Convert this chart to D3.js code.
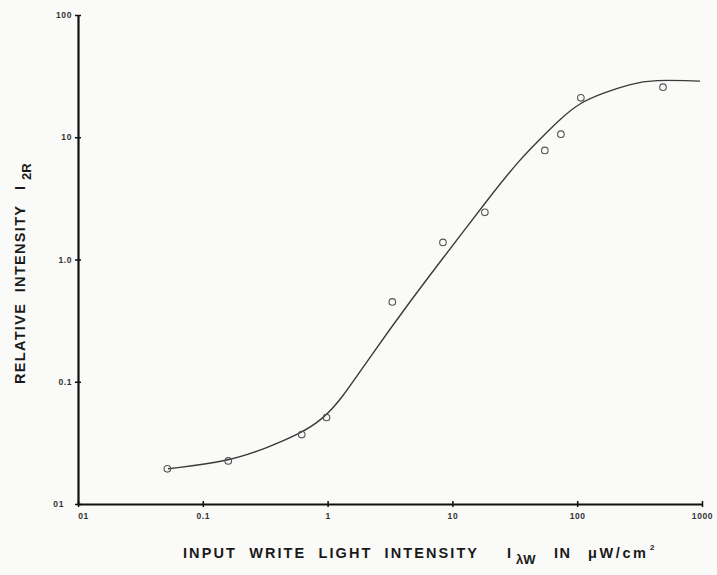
<!DOCTYPE html>
<html>
<head>
<meta charset="utf-8">
<script src="https://cdn.jsdelivr.net/npm/d3@7"></script>
<style>
  body { margin: 0; background: #fafaf8; }
  svg { display: block; }
  text { white-space: pre; }
  .tick text { font-family: "Liberation Sans", sans-serif; font-size: 8.5px; font-weight: bold; fill: #333; letter-spacing: 0.6px; }
  .axisLabel { font-family: "Liberation Sans", sans-serif; font-size: 14.5px; font-weight: bold; fill: #1a1a1a; }
</style>
</head>
<body>
<svg id="chart" width="717" height="575"></svg>
<script>
// measured points (input write light intensity, relative intensity)
var pointX = [0.052, 0.16, 0.62, 0.98, 3.3, 8.4, 18.2, 55, 74, 107, 487];
var pointY = [0.0194, 0.0225, 0.037, 0.051, 0.45, 1.38, 2.43, 7.8, 10.6, 21, 25.7];

// hand drawn fit curve
var curveX = [0.0526, 0.159, 0.327, 0.60, 0.918, 1.3, 2.19, 4.57, 7.9, 20.0, 34.8, 50.3, 72.8, 105, 161, 265, 405, 964];
var curveY = [0.0194, 0.0222, 0.0288, 0.0375, 0.0495, 0.073, 0.160, 0.453, 0.944, 3.28, 6.6, 9.63, 14.06, 19.2, 23.0, 27.2, 29.6, 28.8];

var xTicks = [0.01, 0.1, 1, 10, 100, 1000];
var xTickLabels = ["01", "0.1", "1", "10", "100", "1000"];
var yTicks = [0.01, 0.1, 1, 10, 100];
var yTickLabels = ["01", "0.1", "1.0", "10", "100"];

var svg = d3.select("#chart");

var x = d3.scaleLog().domain([0.01, 1000]).range([78, 702]);
var y = d3.scaleLog().domain([0.01, 100]).range([504, 15]);

// x axis
var xAxis = svg.append("g")
	.attr("transform", "translate(0," + y(0.01) + ")")
	.call(d3.axisBottom(x)
		.tickValues(xTicks)
		.tickSize(3)
		.tickSizeOuter(0)
		.tickFormat(function(d, i) { return xTickLabels[i]; }));
xAxis.select(".domain").attr("stroke", "#111").attr("stroke-width", 2.2);
xAxis.selectAll(".tick line").attr("y1", -3).attr("stroke", "#111").attr("stroke-width", 1.5);
xAxis.selectAll(".tick text").attr("dy", "0.9em").attr("y", 7);
xAxis.selectAll(".tick").filter(function(d) { return d === 0.01; }).select("text").attr("dx", 5);

// y axis
var yAxis = svg.append("g")
	.attr("transform", "translate(" + x(0.01) + ",0)")
	.call(d3.axisLeft(y)
		.tickValues(yTicks)
		.tickSize(3)
		.tickSizeOuter(0)
		.tickFormat(function(d, i) { return yTickLabels[i]; }));
yAxis.select(".domain").attr("stroke", "#111").attr("stroke-width", 2.2);
yAxis.selectAll(".tick line").attr("x1", 3).attr("stroke", "#111").attr("stroke-width", 1.5);
yAxis.selectAll(".tick text").attr("x", -6);
yAxis.selectAll(".tick").filter(function(d) { return d === 0.01; }).select("text").attr("x", -14);

// fit curve
var curveData = curveX.map(function(d, i) { return [d, curveY[i]]; });
var line = d3.line()
	.x(function(d) { return x(d[0]); })
	.y(function(d) { return y(d[1]); })
	.curve(d3.curveBasis);

svg.append("path")
	.datum(curveData)
	.attr("d", line)
	.attr("fill", "none")
	.attr("stroke", "#3a3a3a")
	.attr("stroke-width", 1.4);

// data points
svg.selectAll(".pt")
	.data(pointX.map(function(d, i) { return [d, pointY[i]]; }))
	.enter().append("circle")
	.attr("class", "pt")
	.attr("cx", function(d) { return x(d[0]); })
	.attr("cy", function(d) { return y(d[1]); })
	.attr("r", 3.3)
	.attr("fill", "none")
	.attr("stroke", "#555")
	.attr("stroke-width", 1.1);

// axis titles
var xt = svg.append("text")
	.attr("class", "axisLabel")
	.attr("y", 558);
xt.append("tspan").attr("x", 183).attr("textLength", 294).attr("lengthAdjust", "spacing")
	.text("INPUT  WRITE  LIGHT  INTENSITY");
xt.append("tspan").attr("x", 507).text("I");
xt.append("tspan").attr("x", 516).attr("dy", 6).attr("font-size", "13px").text("λW");
xt.append("tspan").attr("x", 554).attr("dy", -6).attr("textLength", 16).text("IN");
xt.append("tspan").attr("x", 588).attr("textLength", 58).attr("lengthAdjust", "spacing").text("μW/cm");
xt.append("tspan").attr("x", 650).attr("dy", -8).attr("font-size", "8px").text("2");

var yt = svg.append("text")
	.attr("class", "axisLabel")
	.attr("transform", "translate(25,0) rotate(-90)")
	.attr("y", 0);
yt.append("tspan").attr("x", -384).attr("textLength", 178).attr("lengthAdjust", "spacing")
	.text("RELATIVE  INTENSITY");
yt.append("tspan").attr("x", -190).text("I");
yt.append("tspan").attr("x", -180).attr("dy", 6).attr("font-size", "13px").text("2R");
</script>
</body>
</html>
